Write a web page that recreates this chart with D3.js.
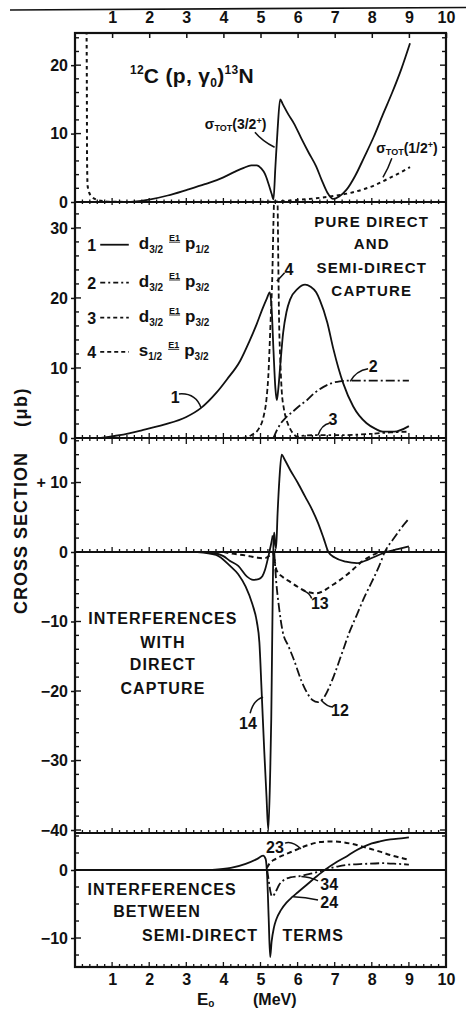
<!DOCTYPE html>
<html lang="en">
<head>
<meta charset="UTF-8">
<title>12C(p,γ0)13N cross sections</title>
<script src="https://d3js.org/d3.v7.min.js"></script>
<style>
  * { margin: 0; padding: 0; }
  body { background: #fff; width: 466px; height: 1009px; overflow: hidden; }
  svg { display: block; font-family: "Liberation Sans", Arial, sans-serif; }
  .tick text { font-size: 16px; font-weight: bold; fill: #111; }
  .lbl { font-weight: bold; fill: #111; }
</style>
</head>
<body>
<svg id="chart" width="466" height="1009"></svg>
<script>
// ---- data (x = E_p in MeV, y = cross section in microbarn) ----
const xTicks = [1, 2, 3, 4, 5, 6, 7, 8, 9, 10];

// panel 1: total cross sections
const sigma32 = [[1.5,0],[2.0,0.35],[2.5,0.95],[3.0,1.75],[3.5,2.6],[4.0,3.6],[4.3,4.4],[4.55,5.0],[4.75,5.35],[4.9,5.35],[5.02,4.9],[5.12,4.1],[5.22,2.6],[5.3,1.2],[5.35,0.4],[5.4,5.0],[5.46,10.5],[5.53,15.0],[5.6,14.3],[5.75,12.8],[5.9,11.5],[6.1,9.3],[6.3,7.2],[6.5,5.2],[6.65,3.2],[6.8,1.4],[6.96,0.45],[7.12,0.8],[7.32,1.8],[7.55,3.8],[7.8,6.6],[8.05,9.5],[8.3,12.8],[8.55,16.0],[8.8,19.5],[9.03,23.2]];
const sigma12 = [[0.31,26],[0.32,16],[0.325,6],[0.34,2.4],[0.38,1.4],[0.45,0.8],[0.6,0.3],[0.8,0.1],[1.0,0.03],[2,0],[3,0],[4,0],[5,0.02],[5.5,0.1],[6.0,0.3],[6.5,0.55],[7.0,0.9],[7.4,1.3],[7.8,1.9],[8.1,2.5],[8.4,3.3],[8.7,4.1],[9.03,5.1]];

// panel 2: pure direct and semi-direct capture
const pure1 = [[0.7,0],[1.2,0.4],[1.8,1.1],[2.4,1.9],[3.0,3.0],[3.4,4.3],[3.8,6.4],[4.1,8.4],[4.45,11.0],[4.7,13.8],[4.9,16.3],[5.05,18.4],[5.17,19.9],[5.25,20.8],[5.3,18.5],[5.35,12.5],[5.4,7.2],[5.44,5.4],[5.48,7.0],[5.53,10.2],[5.61,15.0],[5.7,18.0],[5.8,19.8],[6.0,21.3],[6.2,21.9],[6.35,21.6],[6.5,20.8],[6.6,19.7],[6.8,16.5],[6.96,12.8],[7.1,10.0],[7.23,7.8],[7.5,4.5],[7.86,2.1],[8.1,1.3],[8.3,0.9],[8.6,0.9],[9.0,1.7]];
const pure2 = [[5.35,0],[5.45,1.2],[5.55,2.1],[5.7,3.0],[5.9,3.9],[6.1,4.8],[6.25,5.4],[6.45,6.4],[6.7,7.3],[6.9,7.8],[7.14,8.1],[7.4,8.2],[9.0,8.2]];
const pure3 = [[5.9,0],[6.1,0.3],[6.5,0.4],[7.0,0.4],[7.5,0.45],[8.0,0.6],[8.5,0.8],[9.0,0.9]];
const pure4 = [[4.5,0],[4.75,0.4],[4.95,1.3],[5.08,3.0],[5.16,5.5],[5.21,8.8],[5.27,16.4],[5.32,23.5],[5.35,31],[5.39,37],[5.43,38],[5.46,34],[5.48,25],[5.5,17],[5.53,11.6],[5.57,6.9],[5.63,4.2],[5.7,2.6],[5.8,1.3],[5.9,0.5],[6.06,0]];

// panel 3: interferences with direct capture
const int14 = [[3.3,0],[3.8,-0.4],[4.18,-2.0],[4.4,-3.2],[4.6,-5.0],[4.78,-7.5],[4.9,-10],[4.97,-13],[5.03,-20],[5.1,-28.5],[5.16,-35],[5.21,-40],[5.26,-32],[5.29,-24],[5.31,-15],[5.33,-6],[5.35,1.5],[5.37,2.8],[5.39,1.5],[5.42,0.5],[5.46,5.5],[5.51,10.5],[5.57,14.0],[5.65,13.3],[5.8,11.8],[6.0,10.0],[6.2,8.0],[6.4,6.0],[6.55,4.2],[6.7,2.0],[6.83,0],[7.0,-0.8],[7.3,-1.4],[7.6,-1.6],[7.9,-1.1],[8.2,-0.4],[8.4,0],[8.7,0.4],[9.0,0.8]];
const int14b = [[3.6,0],[4.0,-0.6],[4.18,-1.3],[4.4,-2.0],[4.63,-3.5],[4.8,-4.0],[4.95,-3.9],[5.05,-3.5],[5.12,-2.6],[5.21,-0.7],[5.28,1.0],[5.33,2.4]];
const int13 = [[4.0,0],[4.2,-0.2],[4.6,-0.5],[4.9,-0.8],[5.1,-0.9],[5.25,-0.5],[5.33,0],[5.38,-1.2],[5.43,-2.6],[5.6,-3.6],[5.8,-4.3],[6.0,-5.0],[6.24,-5.7],[6.5,-5.95],[6.7,-5.6],[6.87,-5.0],[7.1,-4.2],[7.32,-3.3],[7.5,-2.5],[7.68,-1.6],[7.9,-0.8],[8.13,-0.2],[8.3,0]];
const int12 = [[5.37,0],[5.42,-4],[5.5,-8],[5.6,-11.5],[5.75,-13.5],[5.9,-15.5],[6.1,-18.5],[6.25,-20.2],[6.4,-21.3],[6.55,-21.6],[6.7,-21.0],[6.85,-19.5],[7.0,-17.5],[7.2,-14.5],[7.4,-11.5],[7.6,-9.0],[7.8,-6.5],[8.0,-4.3],[8.2,-2.0],[8.35,0],[8.6,2.0],[8.8,3.5],[9.0,4.8]];

// panel 4: interferences between semi-direct terms
const semi24 = [[3.7,0],[4.2,0.3],[4.6,0.9],[4.9,1.6],[5.07,2.1],[5.14,1.6],[5.18,-1],[5.22,-7],[5.26,-12.8],[5.3,-10.5],[5.36,-8.5],[5.43,-7.2],[5.55,-5.9],[5.7,-4.8],[5.85,-4.0],[6.0,-3.3],[6.24,-2.2],[6.5,-1.0],[6.78,0.2],[7.0,1.0],[7.32,2.0],[7.55,2.8],[7.77,3.4],[8.0,3.9],[8.22,4.2],[8.5,4.5],[8.85,4.7],[9.0,4.8]];
const semi23 = [[5.17,0.3],[5.25,1.0],[5.4,1.6],[5.62,2.2],[5.85,2.7],[6.06,3.2],[6.3,3.7],[6.6,4.1],[6.87,4.2],[7.1,4.15],[7.41,3.9],[7.77,3.4],[8.0,3.05],[8.22,2.7],[8.5,2.2],[8.85,1.7],[9.0,1.5]];
const semi34 = [[5.18,0],[5.22,-1.5],[5.28,-3.5],[5.32,-3.9],[5.4,-3.3],[5.5,-2.2],[5.62,-1.5],[5.8,-1.1],[6.06,-0.9],[6.3,-0.6],[6.6,-0.2],[6.85,0.2],[7.1,0.55],[7.4,0.8],[7.8,0.9],[8.3,1.0],[8.7,0.9],[9.0,0.8]];

// y tick labels per panel
const p1Labels = [0, 10, 20];
const p2Labels = [0, 10, 20, 30];
const p3Labels = [-40, -30, -20, -10, 0, 10];
const p4Labels = [-10, 0];

// ---- layout ----
const ink = "#111";
const x0 = 75, x1 = 446;
const x = d3.scaleLinear().domain([0, 10]).range([x0, x1]);

const panels = {
  p1: { top: 33,  bottom: 202, domain: [0, 24.7],       step: 2,   labels: p1Labels },
  p2: { top: 202, bottom: 438, domain: [0, 33.7],       step: 2,   labels: p2Labels },
  p3: { top: 438, bottom: 833, domain: [-40.43, 16.4],  step: 2,   labels: p3Labels },
  p4: { top: 833, bottom: 967, domain: [-14.26, 5.44],  step: 2.5, labels: p4Labels }
};

const svg = d3.select("#chart");
const defs = svg.append("defs");

// scan rule along the top edge
svg.append("line").attr("x1", 10).attr("y1", 10).attr("x2", 466).attr("y2", 7.5)
  .attr("stroke", ink).attr("stroke-width", 1.6);

Object.entries(panels).forEach(([k, p]) => {
  p.y = d3.scaleLinear().domain(p.domain).range([p.bottom, p.top]);
  defs.append("clipPath").attr("id", "clip-" + k)
    .append("rect").attr("x", x0).attr("y", p.top)
    .attr("width", x1 - x0).attr("height", p.bottom - p.top);
});

// frame
svg.append("rect").attr("x", x0).attr("y", 33).attr("width", x1 - x0).attr("height", 967 - 33)
  .attr("fill", "none").attr("stroke", ink).attr("stroke-width", 2.2);
[202, 438, 833].forEach(yy => {
  svg.append("line").attr("x1", x0).attr("x2", x1).attr("y1", yy).attr("y2", yy)
    .attr("stroke", ink).attr("stroke-width", 2.2);
});
// zero lines
["p3", "p4"].forEach(k => {
  const y0 = panels[k].y(0);
  svg.append("line").attr("x1", x0).attr("x2", x1).attr("y1", y0).attr("y2", y0)
    .attr("stroke", ink).attr("stroke-width", 2);
});

// horizontal tick rows
const minorX = d3.range(1, 50).map(i => +(i * 0.2).toFixed(1));
function hTicks(yPix, upMinor, upMajor, dnMinor, dnMajor) {
  svg.append("g").selectAll("line").data(minorX).join("line")
    .attr("x1", d => x(d)).attr("x2", d => x(d))
    .attr("y1", d => yPix - (Number.isInteger(d) ? upMajor : upMinor))
    .attr("y2", d => yPix + (Number.isInteger(d) ? dnMajor : dnMinor))
    .attr("stroke", ink).attr("stroke-width", 1.3);
}
hTicks(202, 2.5, 4, 2, 3);
hTicks(438, 3, 5, 3, 6);
hTicks(panels.p3.y(0), 3, 5, 0, 0);
hTicks(833, 3, 5, 0, 0);
hTicks(967, 3, 5, 0, 0);

// top and bottom axes
svg.append("g").attr("transform", "translate(0,33)")
  .call(d3.axisTop(x).tickValues(xTicks).tickSize(-5).tickPadding(10).tickFormat(d3.format("d")))
  .call(g => g.select(".domain").remove())
  .call(g => g.selectAll("line").attr("stroke", ink).attr("stroke-width", 1.5));
svg.append("g").attr("transform", "translate(0,967)")
  .call(d3.axisBottom(x).tickValues(xTicks).tickSize(0).tickPadding(7).tickFormat(d3.format("d")))
  .call(g => g.select(".domain").remove());

// vertical ticks and y labels
Object.entries(panels).forEach(([k, p]) => {
  const vals = d3.range(Math.ceil(p.domain[0] / p.step), Math.floor(p.domain[1] / p.step) + 1)
    .map(i => i * p.step)
    .filter(v => p.y(v) > p.top + 2 && p.y(v) < p.bottom - 2);
  const g = svg.append("g");
  g.selectAll("line.l").data(vals).join("line").attr("class", "l")
    .attr("x1", x0).attr("x2", d => x0 + (d % 10 === 0 ? 6 : 4))
    .attr("y1", d => p.y(d)).attr("y2", d => p.y(d))
    .attr("stroke", ink).attr("stroke-width", 1.4);
  g.selectAll("line.r").data(vals).join("line").attr("class", "r")
    .attr("x1", x1).attr("x2", d => x1 - (d % 10 === 0 ? 6 : 4))
    .attr("y1", d => p.y(d)).attr("y2", d => p.y(d))
    .attr("stroke", ink).attr("stroke-width", 1.4);

  svg.append("g").attr("transform", `translate(${x0},0)`)
    .call(d3.axisLeft(p.y).tickValues(p.labels).tickSize(4).tickPadding(3)
      .tickFormat(d => (k === "p3" && d > 0) ? "+ " + d : d3.format("d")(d)))
    .call(g => g.select(".domain").remove())
    .call(g => g.selectAll("line").attr("stroke", ink).attr("stroke-width", 1.5));
});

// curves
const series = [
  { panel: "p1", data: sigma32, dash: null },
  { panel: "p1", data: sigma12, dash: "3.5,3.5", width: 2 },
  { panel: "p2", data: pure1, dash: null },
  { panel: "p2", data: pure2, dash: "9,3,2,3" },
  { panel: "p2", data: pure3, dash: "5,3,2.5,3" },
  { panel: "p2", data: pure4, dash: "5,3" },
  { panel: "p3", data: int14, dash: null },
  { panel: "p3", data: int14b, dash: null },
  { panel: "p3", data: int13, dash: "5,3.5", width: 2 },
  { panel: "p3", data: int12, dash: "9,3,2,3" },
  { panel: "p4", data: semi24, dash: null },
  { panel: "p4", data: semi23, dash: "5,3.5", width: 2 },
  { panel: "p4", data: semi34, dash: "9,3,2,3" }
];
series.forEach(s => {
  const p = panels[s.panel];
  const line = d3.line().x(d => x(d[0])).y(d => p.y(d[1])).curve(d3.curveMonotoneX);
  svg.append("path").datum(s.data)
    .attr("clip-path", `url(#clip-${s.panel})`)
    .attr("d", line)
    .attr("fill", "none").attr("stroke", ink)
    .attr("stroke-width", s.width || 1.8)
    .attr("stroke-dasharray", s.dash);
});

// ---- annotations ----
const P = (k, xv, yv) => [x(xv), panels[k].y(yv)];

function leader(k, from, ctrl, to) {
  const a = P(k, ...from), c = P(k, ...ctrl), b = P(k, ...to);
  svg.append("path").attr("d", `M${a}Q${c} ${b}`)
    .attr("fill", "none").attr("stroke", ink).attr("stroke-width", 1.5);
}
function label(k, xv, yv, text, size, anchor) {
  const [px, py] = P(k, xv, yv);
  return svg.append("text").attr("class", "lbl").attr("x", px).attr("y", py)
    .attr("font-size", size).attr("text-anchor", anchor || "start").text(text);
}

// panel 1 title
{
  const [px, py] = P("p1", 1.48, 17.4);
  const t = svg.append("text").attr("x", px).attr("y", py).attr("fill", ink)
    .attr("font-size", 21).attr("font-weight", "bold").attr("letter-spacing", 0.3);
  t.append("tspan").attr("font-size", 12).attr("dy", -9).text("12");
  t.append("tspan").attr("dy", 9).text("C (p, γ");
  t.append("tspan").attr("font-size", 12).attr("dy", 4).text("0");
  t.append("tspan").attr("dy", -4).text(")");
  t.append("tspan").attr("font-size", 12).attr("dy", -9).text("13");
  t.append("tspan").attr("dy", 9).text("N");
}
function sigmaLabel(k, xv, yv, j) {
  const [px, py] = P(k, xv, yv);
  const t = svg.append("text").attr("class", "lbl").attr("x", px).attr("y", py).attr("font-size", 14);
  t.append("tspan").text("σ");
  t.append("tspan").attr("font-size", 9).attr("dy", 2).text("TOT");
  t.append("tspan").attr("dy", -2).text("(" + j);
  t.append("tspan").attr("font-size", 9).attr("dy", -5).text("+");
  t.append("tspan").attr("dy", 5).text(")");
}
sigmaLabel("p1", 3.5, 10.6, "3/2");
leader("p1", [4.85, 10.2], [5.05, 8.9], [5.38, 8.0]);
sigmaLabel("p1", 8.12, 7.2, "1/2");
leader("p1", [8.54, 6.4], [8.45, 5.0], [8.3, 3.6]);

// panel 2 legend
const legendRows = [
  { n: "1", dash: null,       l: "d", li: "3/2", r: "1/2" },
  { n: "2", dash: "5,3,2,3",  l: "d", li: "3/2", r: "3/2" },
  { n: "3", dash: "4,3,3,3",  l: "d", li: "3/2", r: "3/2" },
  { n: "4", dash: "4,3",      l: "s", li: "1/2", r: "3/2" }
];
const legendY = [27.6, 22.2, 17.2, 12.3];
legendRows.forEach((row, i) => {
  const [nx, ny] = P("p2", 0.45, legendY[i]);
  svg.append("text").attr("class", "lbl").attr("x", nx).attr("y", ny + 6)
    .attr("font-size", 16).attr("text-anchor", "middle").text(row.n);
  svg.append("line").attr("x1", x(0.68)).attr("x2", x(1.45)).attr("y1", ny).attr("y2", ny)
    .attr("stroke", ink).attr("stroke-width", 1.8).attr("stroke-dasharray", row.dash);
  const t = svg.append("text").attr("class", "lbl").attr("x", x(1.72)).attr("y", ny + 4).attr("font-size", 17);
  t.append("tspan").text(row.l);
  t.append("tspan").attr("font-size", 10).attr("dy", 4).text(row.li);
  t.append("tspan").attr("font-size", 9).attr("dx", 6).attr("dy", -12)
    .attr("text-decoration", "underline").text("E1");
  t.append("tspan").attr("dx", 5).attr("dy", 8).text("p");
  t.append("tspan").attr("font-size", 10).attr("dy", 4).text(row.r);
});

// panel 2 heading
[["PURE DIRECT", 30.1], ["AND", 27.0], ["SEMI-DIRECT", 23.6], ["CAPTURE", 20.3]].forEach(([s, v]) => {
  label("p2", 8.0, v, s, 15, "middle").attr("letter-spacing", 1.2);
});
label("p2", 2.7, 5.0, "1", 16, "middle");
leader("p2", [2.8, 6.3], [3.25, 6.5], [3.4, 4.3]);
label("p2", 5.77, 23.3, "4", 16, "middle");
leader("p2", [5.65, 23.6], [5.55, 23.0], [5.44, 22.4]);
label("p2", 8.04, 9.4, "2", 16, "middle");
leader("p2", [7.9, 9.9], [7.57, 9.6], [7.42, 8.1]);
label("p2", 6.95, 1.9, "3", 16, "middle");
leader("p2", [6.86, 2.1], [6.65, 1.9], [6.55, 0.4]);

// panel 3 heading and labels
[["INTERFERENCES", -10.4], ["WITH", -13.8], ["DIRECT", -17.0], ["CAPTURE", -20.4]].forEach(([s, v]) => {
  label("p3", 2.37, v, s, 16, "middle").attr("letter-spacing", 1.1);
});
label("p3", 4.66, -25.5, "14", 16, "middle");
leader("p3", [4.72, -23.2], [4.82, -21.2], [5.07, -20.9]);
label("p3", 7.14, -23.6, "12", 16, "middle");
leader("p3", [6.95, -22.3], [6.8, -22.3], [6.63, -21.3]);
label("p3", 6.6, -8.2, "13", 16, "middle");
leader("p3", [6.38, -6.7], [6.32, -5.9], [6.17, -5.6]);

// panel 4 heading and labels
label("p4", 2.35, -3.7, "INTERFERENCES", 16, "middle").attr("letter-spacing", 1.1);
label("p4", 2.21, -6.9, "BETWEEN", 16, "middle").attr("letter-spacing", 1.1);
label("p4", 3.37, -10.4, "SEMI-DIRECT", 16, "middle").attr("letter-spacing", 1.1);
label("p4", 6.42, -10.4, "TERMS", 16, "middle").attr("letter-spacing", 1.1);
label("p4", 5.39, 2.5, "23", 16, "middle");
leader("p4", [5.66, 3.95], [5.86, 4.3], [6.09, 3.1]);
label("p4", 6.85, -2.95, "34", 16, "middle");
leader("p4", [6.55, -1.6], [6.33, -1.0], [6.1, -0.95]);
label("p4", 6.85, -5.6, "24", 16, "middle");
leader("p4", [6.55, -4.4], [6.2, -4.0], [5.88, -3.95]);

// axis titles
svg.append("text").attr("class", "lbl").attr("font-size", 18).attr("letter-spacing", 1)
  .attr("text-anchor", "middle").attr("transform", "translate(27,533) rotate(-90)")
  .text("CROSS SECTION");
svg.append("text").attr("class", "lbl").attr("font-size", 18).attr("letter-spacing", 1.5)
  .attr("text-anchor", "middle").attr("transform", "translate(27,407) rotate(-90)")
  .text("(μb)");
{
  const t = svg.append("text").attr("class", "lbl").attr("x", 197).attr("y", 1005).attr("font-size", 16);
  t.append("tspan").attr("font-size", 17).text("E");
  t.append("tspan").attr("font-size", 10).attr("dy", 1.5).text("o");
  t.append("tspan").attr("dy", -1.5).attr("x", 253).text("(MeV)");
}
</script>
</body>
</html>
